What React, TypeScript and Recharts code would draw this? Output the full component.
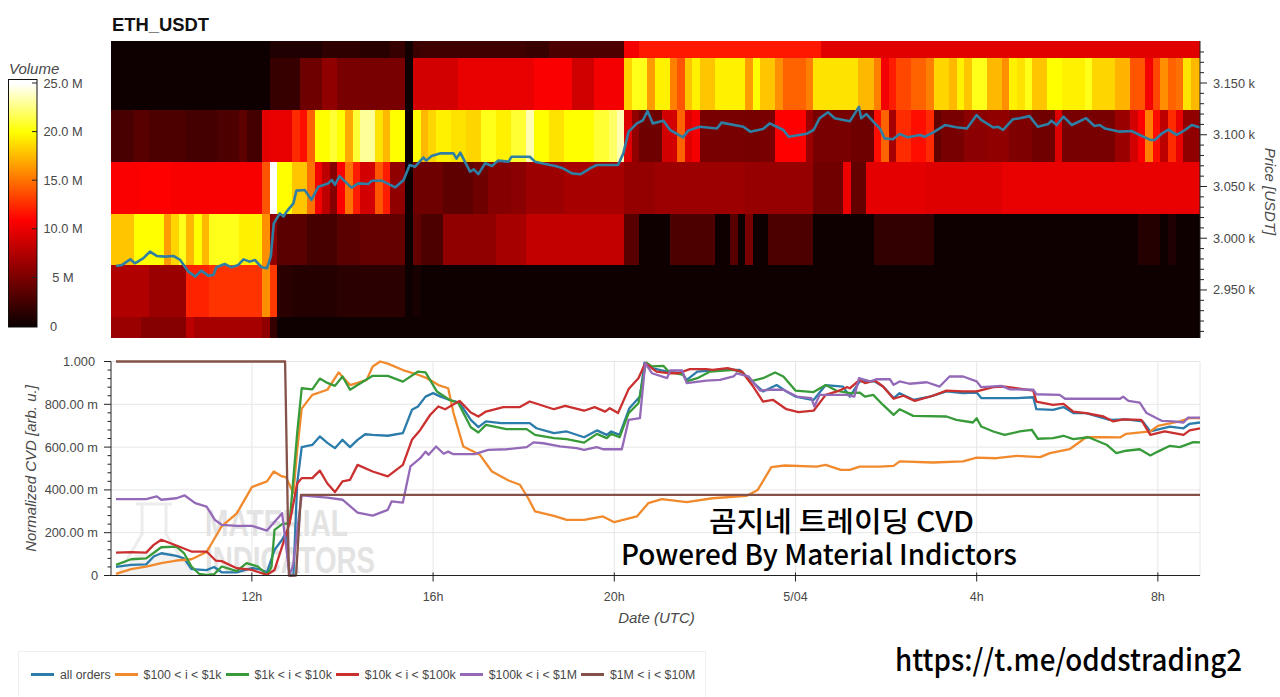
import React from 'react';
import { ComposedChart, Line, XAxis, YAxis, CartesianGrid, ReferenceArea, Legend } from 'recharts';

/* ---------- time axis: ten-minute steps counted from 09:00 UTC ---------- */
const timeTicks = [18, 42, 66, 90, 114, 138];
const timeLabels = ['12h', '16h', '20h', '5/04', '4h', '8h'];
const timeDomain = [-0.66, 143.58];

/* ---------- heatmap: price edges (USDT) and [first ten-minute column, volume in M] runs ---------- */
const priceEdges = [3190.6, 3174, 3124, 3074, 3023.5, 2974, 2924, 2903.6];
const volumeRow0 = [[0, 0.2], [21, 1], [28, 1.6], [33, 1.4], [37, 2], [39, 0.4], [40, 2.2], [41, 2.4], [55, 2.1], [58, 3], [68, 10.5], [70, 11.8], [94, 9.6]];
const volumeRow1 = [[0, 0.2], [21, 2], [25, 4.5], [28, 6], [30, 5], [39, 0.2], [40, 9], [46, 10], [56, 10.8], [61, 8.8], [64, 10.5], [68, 18.5], [69, 20.5], [71, 16.5], [72, 19.5], [74, 15.5], [75, 14], [76, 18], [77, 19.5], [78, 18], [80, 19.5], [84, 16.5], [85, 20], [86, 18], [88, 16], [89, 14.5], [92, 15.5], [93, 19], [99, 17.5], [101, 15.5], [102, 10.5], [103, 12], [104, 13.5], [106, 14.5], [108, 15.5], [109, 18.5], [111, 17.5], [112, 19.5], [113, 18], [114, 20.5], [116, 17.5], [118, 16], [119, 19.5], [120, 19], [121, 20.5], [122, 18], [124, 20], [126, 19.5], [129, 20.5], [130, 18.5], [133, 17.3], [135, 14], [137, 10.5], [138, 13.5], [139, 16], [140, 14.5], [141, 15], [142, 19], [143, 17.5]];
const volumeRow2 = [[0, 2.8], [3, 3.5], [5, 3], [10, 2.6], [14, 3], [17, 3.8], [18, 2.6], [20, 9.8], [21, 10], [24, 12.5], [25, 11.5], [26, 14.5], [27, 20], [29, 21], [30, 20], [31, 17], [32, 21], [33, 23], [35, 19], [36, 17.5], [37, 20], [39, 0.2], [40, 20], [41, 17.5], [42, 18.5], [43, 19.5], [45, 19], [47, 18.5], [49, 20.5], [51, 19.5], [53, 21], [55, 23.5], [56, 20], [58, 19], [60, 20], [64, 21], [66, 22], [67, 23.5], [68, 9.5], [69, 6], [70, 4.5], [73, 9], [75, 14.5], [76, 9.5], [77, 10.5], [78, 5], [84, 4.8], [86, 5], [88, 11], [92, 6.5], [93, 5], [98, 4.5], [101, 11.5], [102, 14.5], [103, 7], [104, 12.5], [106, 11.5], [108, 12.5], [109, 4], [110, 5], [113, 5.8], [116, 6], [119, 5.2], [122, 4.6], [125, 9.5], [126, 5], [133, 6.5], [135, 9], [136, 11], [137, 15.5], [138, 11.5], [139, 8], [140, 12.5], [141, 10], [142, 6]];
const volumeRow3 = [[0, 10.8], [4, 11], [8, 10.7], [20, 14], [21, 25], [22, 20], [24, 18], [26, 15], [27, 10.5], [28, 8], [29, 5.5], [30, 11], [31, 15], [32, 12], [33, 9], [35, 14], [36, 12], [37, 6], [39, 0.2], [40, 4.5], [44, 3.8], [48, 4.5], [50, 5.5], [53, 5.8], [55, 6.6], [60, 7], [68, 6.2], [72, 6.6], [84, 6.3], [93, 4.6], [97, 10.2], [98, 4], [100, 9.8], [108, 9.5], [118, 10]];
const volumeRow4 = [[0, 18], [3, 20], [7, 16.5], [8, 18.5], [9, 20.5], [10, 17.5], [11, 20], [12, 17.5], [13, 20.5], [17, 19.5], [20, 16], [21, 6], [22, 3.6], [26, 2.7], [30, 3.6], [33, 4], [39, 0.2], [40, 4], [41, 3], [44, 6], [51, 7], [55, 8.3], [68, 3.5], [70, 0.2], [74, 3], [80, 0.2], [82, 3.5], [83, 0.2], [84, 5], [85, 0.2], [87, 3], [93, 0.2], [101, 1.8], [109, 0.2], [136, 1.2], [139, 0.2], [140, 1], [141, 0.2]];
const volumeRow5 = [[0, 7.5], [5, 6.5], [10, 12.2], [13, 12.8], [20, 16], [21, 13], [22, 1.5], [24, 1.2], [30, 1.5], [39, 0.2], [40, 0.6], [41, 0.2]];
const volumeRow6 = [[0, 6.5], [4, 5.5], [10, 8], [11, 7], [20, 6], [21, 2], [22, 0.2]];
const volumeRows = [volumeRow0, volumeRow1, volumeRow2, volumeRow3, volumeRow4, volumeRow5, volumeRow6];
const lastColumnEdge = 144.2;

const volumeTicks = [25, 20, 15, 10, 5, 0];
const volumeTickLabels = ['25.0 M', '20.0 M', '15.0 M', '10.0 M', '5 M', '0'];

/* ---------- price (ten-minute step, USDT) ---------- */
const pricePoints = [[0, 2973.2], [0.8, 2974.2], [1.9, 2979.6], [2.5, 2975.8], [3.6, 2980.6], [4.5, 2987], [5.4, 2982.9], [6.5, 2982.2], [7.6, 2982.9], [8.5, 2979], [9.6, 2967.7], [10.5, 2962.9], [11.3, 2968.7], [12.2, 2963.9], [12.9, 2964.5], [13.3, 2971.9], [14.4, 2975.1], [15.3, 2971.9], [16.2, 2974.2], [16.9, 2979.6], [17.7, 2977.4], [18.4, 2979], [19.3, 2971.9], [20, 2971], [20.5, 2982.2], [20.9, 3014.4], [21.7, 3024], [22.2, 3021], [22.6, 3025.7], [23.5, 3033.7], [23.9, 3046], [25, 3046.6], [25.9, 3037], [26.8, 3049.8], [28.1, 3053], [28.6, 3056.3], [29, 3051.5], [29.6, 3060], [30.6, 3053], [31.2, 3048.9], [32.1, 3053], [33.4, 3052.4], [33.9, 3055.6], [35.2, 3055.6], [37, 3049.2], [38.1, 3056.3], [38.9, 3070.8], [39.6, 3069], [40.7, 3078], [41.1, 3075], [41.8, 3079.5], [42.9, 3082], [44.7, 3082], [45.1, 3077], [45.6, 3082.7], [46.9, 3064.4], [47.4, 3066.6], [48, 3062], [48.9, 3072.4], [49.8, 3069.8], [50.6, 3075], [52, 3074], [52.4, 3078.8], [54.8, 3078.8], [55.5, 3074], [57.5, 3070.8], [58.2, 3069.8], [59.2, 3067.6], [60.4, 3062.7], [61.5, 3061.8], [62.8, 3067.6], [63.7, 3070.8], [66.5, 3070.8], [67.2, 3082], [67.9, 3103], [69, 3111], [69.8, 3114], [70.4, 3123], [71.1, 3111], [72.5, 3113.6], [73.4, 3104.6], [75.1, 3097.5], [75.8, 3104], [77.3, 3107.8], [79.6, 3106], [80.2, 3111.7], [83.1, 3107.8], [84, 3103], [85.7, 3105.6], [86.6, 3111], [88.4, 3104.6], [89.1, 3098], [91.5, 3101], [92.4, 3104.6], [93.2, 3116], [94.3, 3121.7], [95.2, 3116], [97.2, 3113], [97.6, 3117.5], [98.4, 3127], [98.7, 3116], [99.4, 3120], [100.3, 3112.7], [101.2, 3106], [101.8, 3096.5], [102.9, 3095.6], [103.8, 3100.7], [104.9, 3097.5], [106.5, 3099.8], [107.1, 3098], [108.2, 3102], [109.8, 3109.4], [111.3, 3107.2], [112.7, 3106], [114, 3119], [114.6, 3114.3], [116.2, 3107], [116.8, 3107.8], [117.5, 3104.6], [118.8, 3115], [119.7, 3116], [121, 3118], [122.1, 3107.8], [123.5, 3110.4], [123.9, 3113.6], [124.6, 3109.4], [125.5, 3117.5], [126.6, 3109.4], [128.5, 3116], [129.6, 3108.5], [130.3, 3109.4], [131, 3106], [133, 3103], [134.5, 3103.6], [135.6, 3099.8], [137, 3095], [137.6, 3095], [138.5, 3101], [139.4, 3105], [140.5, 3099.8], [141.6, 3104.6], [142.5, 3109.4], [143.58, 3107]];
const priceTicks = [3180, 3170, 3160, 3150, 3140, 3130, 3120, 3110, 3100, 3090, 3080, 3070, 3060, 3050, 3040, 3030, 3020, 3010, 3000, 2990, 2980, 2970, 2960, 2950, 2940, 2930, 2920, 2910];
const priceMajor = [3150, 3100, 3050, 3000, 2950];
const priceMajorLabels = ['3.150 k', '3.100 k', '3.050 k', '3.000 k', '2.950 k'];

/* ---------- normalized CVD series: [ten-minute step, value] ---------- */
const allOrders = [[0, .04], [2, .05], [4, .052], [5, .089], [6, .104], [8, .092], [9, .08], [10, .03], [12, .025], [13, .04], [14, .015], [16, .015], [18, .035], [19, .03], [20, .015], [21, .12], [22, .167], [22.5, .2], [23, 0], [23.5, 0], [24, .43], [24.6, .6], [26, .61], [27, .65], [28, .62], [29, .595], [30, .634], [31, .6], [32, .634], [33, .66], [34, .657], [36, .653], [38, .665], [39.2, .774], [40, .79], [41, .836], [42, .852], [43, .836], [44.2, .82], [45.5, .808], [47, .727], [48, .693], [49, .72], [51, .712], [54.8, .712], [55.7, .688], [58, .665], [59.7, .673], [62, .646], [63.7, .678], [65, .657], [65.6, .673], [66.7, .657], [68, .782], [69.4, .836], [70, .995], [71, .969], [73, .953], [75, .945], [75.6, .914], [77, .953], [80, .961], [82.6, .961], [84, .914], [85.7, .86], [87.5, .89], [88.8, .86], [90, .836], [92.4, .82], [94, .89], [96.3, .883], [97.2, .836], [98.5, .907], [100.5, .907], [101.6, .883], [103, .829], [103.8, .852], [105.6, .821], [107.8, .836], [110, .86], [112.2, .852], [114, .855], [114.6, .829], [117, .829], [119.3, .829], [121.5, .833], [121.9, .777], [124.1, .774], [125.5, .787], [126.8, .759], [128.5, .759], [131.6, .727], [133.8, .73], [136, .72], [137, .673], [139.6, .696], [141.4, .688], [142.2, .709], [143.58, .715]];
const orders100to1k = [[0, .008], [2, .03], [4, .042], [6, .058], [8, .07], [10, .076], [12, .11], [14, .23], [16, .29], [18, .413], [20, .44], [20.9, .486], [22, .463], [22.5, .46], [23.5, .385], [24, .587], [24.6, .78], [26, .844], [28, .868], [29.5, .949], [31, .89], [32, .9], [33.2, .914], [34, .977], [35, 1], [36, .99], [38, .96], [40, .938], [41, .925], [42, .905], [42.7, .89], [44, .875], [44.7, .76], [46, .603], [48.2, .564], [49.8, .486], [52, .444], [53.5, .424], [54.6, .361], [55.5, .3], [58, .279], [59.7, .26], [62, .26], [64.5, .276], [66, .249], [69, .276], [70.5, .338], [72.3, .357], [75.6, .343], [79, .361], [83.5, .372], [85, .4], [86.8, .506], [88.6, .514], [92.8, .509], [94, .517], [96, .494], [97.2, .494], [98.5, .509], [101.2, .509], [103, .512], [103.8, .533], [108.2, .528], [112.2, .533], [114, .551], [116.6, .548], [119.3, .559], [122.4, .553], [123.7, .572], [126.3, .59], [128.5, .646], [130.8, .646], [133, .645], [133.8, .662], [137, .673], [138, .699], [140.9, .72], [142.2, .735], [143.58, .735]];
const orders1kto10k = [[0, .05], [2, .076], [4, .08], [6, .132], [8, .135], [9, .105], [10, .042], [11, .008], [12, .003], [13, .006], [14, .042], [16, .02], [17.3, .058], [18.8, .042], [20, .003], [20.6, .04], [21, .213], [22, .24], [23, .245], [24, .665], [24.6, .875], [26, .87], [27, .92], [28, .9], [29, .886], [30, .93], [31, .868], [32, .89], [34, .933], [36, .933], [38, .906], [40, .953], [41, .949], [42.5, .86], [44.2, .82], [45.3, .808], [47, .693], [48, .668], [49, .704], [51.7, .684], [54.4, .684], [55.5, .657], [58, .642], [59.7, .637], [62, .621], [63.7, .662], [65, .642], [65.6, .662], [66.7, .646], [67.9, .759], [69.2, .805], [70.2, .995], [71, .977], [72.5, .98], [73.2, .953], [75.1, .938], [75.6, .907], [77, .922], [78.7, .953], [81.8, .961], [83, .949], [84, .907], [85.7, .922], [87.3, .949], [88.4, .93], [90, .864], [92.4, .857], [94, .89], [95.4, .864], [97.2, .852], [98.5, .855], [99.2, .836], [100.3, .844], [101.6, .797], [103, .751], [103.8, .777], [105.6, .746], [110, .743], [111.3, .727], [113.5, .715], [114, .735], [114.6, .696], [116.2, .673], [117.7, .657], [119.7, .673], [121.3, .681], [122.1, .639], [124.1, .642], [125.5, .653], [126.8, .637], [128.8, .646], [131.2, .611], [132.5, .572], [133.8, .583], [135.6, .59], [137, .561], [138, .579], [139.6, .606], [140.9, .6], [142.7, .623], [143.58, .622]];
const orders10kto100k = [[0, .107], [2, .109], [4, .107], [5, .143], [6, .167], [8, .14], [10, .112], [12, .112], [13.2, .07], [14, .067], [16, .034], [18, .026], [20, .003], [21, .026], [22, .135], [23, .245], [24, .43], [24.6, .455], [26, .455], [27, .49], [28, .43], [29, .39], [30, .44], [31, .447], [32, .517], [34, .486], [36, .463], [38, .517], [39.2, .634], [40.3, .68], [41.6, .75], [42.7, .79], [43.6, .777], [45.5, .816], [47, .762], [48, .743], [49, .766], [51.3, .787], [53.5, .787], [54.8, .813], [58, .777], [59.5, .793], [62, .77], [63.4, .787], [64.8, .766], [65.4, .782], [66.5, .759], [67.9, .871], [69.2, .922], [70.1, .992], [71.6, .953], [73.4, .945], [74.5, .945], [76, .964], [78.2, .964], [79, .961], [81, .969], [82.9, .953], [84.4, .883], [85.7, .813], [87, .821], [88.8, .777], [90.4, .763], [92.4, .77], [94, .844], [95.5, .86], [96.8, .88], [97.2, .875], [98.5, .914], [99.2, .899], [100.5, .911], [101.6, .883], [103, .826], [104.3, .84], [105.8, .816], [108.2, .84], [110, .864], [112.2, .86], [114, .86], [116.2, .88], [117.7, .883], [121.5, .864], [121.9, .813], [124.1, .797], [125.5, .802], [126.8, .766], [128.5, .759], [130.8, .743], [132.1, .72], [133.4, .73], [135.8, .727], [137, .657], [138.9, .673], [141.4, .657], [142.2, .678], [143.58, .687]];
const orders100kto1M = [[0, .357], [2, .357], [4, .357], [5.4, .37], [6, .354], [8, .361], [9.1, .374], [10.5, .338], [12, .322], [13.1, .26], [14, .237], [16, .232], [18, .232], [20, .21], [22, .291], [23, 0], [23.5, .055], [24, .21], [24.6, .374], [26, .37], [28, .364], [30, .354], [32, .294], [34, .28], [36, .307], [36.5, .346], [38, .341], [39, .51], [40.3, .548], [41, .579], [41.4, .564], [42.4, .603], [43.4, .569], [44, .579], [44.7, .567], [47.5, .567], [49.3, .587], [51.7, .59], [54.4, .6], [55.3, .622], [56.6, .618], [58.8, .603], [61, .595], [62, .587], [63.7, .6], [64.5, .59], [67, .59], [67.9, .727], [69.4, .735], [70.1, .992], [71, .945], [73, .922], [73.4, .958], [75, .958], [75.6, .899], [78.2, .911], [80, .914], [81.8, .93], [82.2, .945], [83.8, .93], [85.3, .864], [86.6, .868], [88.4, .868], [90.2, .836], [92.1, .829], [92.5, .79], [93.2, .844], [96.8, .844], [97.8, .836], [98.4, .922], [99.9, .907], [100.7, .917], [102.5, .917], [103, .891], [103.8, .907], [105.1, .896], [107.4, .903], [109.1, .883], [110.4, .93], [112.2, .93], [114, .907], [114.6, .88], [117.3, .886], [118.4, .87], [121.5, .868], [121.9, .847], [125, .844], [125.7, .826], [133, .826], [133.4, .836], [134.1, .816], [135.6, .808], [136.5, .759], [138.5, .723], [140, .72], [141.4, .715], [142, .738], [143.58, .738]];
const orders1Mto10M = [[0, 1], [22.4, 1], [22.9, 0], [23.85, 0], [24.5, .377], [143.58, .377]];

const seriesNames = ['all orders', '$100 < i < $1k', '$1k < i < $10k', '$10k < i < $100k', '$100k < i < $1M', '$1M < i < $10M'];
const seriesColors = ['#2b7bab', '#f08a2d', '#389b3a', '#c9302f', '#9469b8', '#85524a'];
const seriesValues = [allOrders, orders100to1k, orders1kto10k, orders10kto100k, orders100kto1M, orders1Mto10M];

const cvdTicks = [0, .04, .08, .12, .16, .2, .24, .28, .32, .36, .4, .44, .48, .52, .56, .6, .64, .68, .72, .76, .8, .84, .88, .92, .96, 1];
const cvdMajor = [0, .2, .4, .6, .8, 1];
const cvdMajorLabels = ['0', '200.00 m', '400.00 m', '600.00 m', '800.00 m', '1.000'];

/* ---------- helpers ---------- */
const FONT = '"Liberation Sans", Arial, sans-serif';
const TEXT = '#484848';

const heatColor = (v: number) => {
  const hex = (n: number) => Math.round(n).toString(16).padStart(2, '0');
  if (v <= 11) return `#${hex(10 + 245 * (v / 11))}0000`;
  if (v <= 20) return `#ff${hex((255 * (v - 11)) / 9)}00`;
  return `#ffff${hex((255 * (v - 20)) / 5)}`;
};

const toPoints = (rows: number[][]) => rows.map(([j, v]) => ({ j, v }));

const heatCells = volumeRows.flatMap((row, r) =>
  row.map(([start, volume], i) => ({
    key: `${r}-${i}`,
    x1: start - 0.66,
    x2: (i + 1 < row.length ? row[i + 1][0] : lastColumnEdge) - 0.66,
    y1: priceEdges[r + 1],
    y2: priceEdges[r],
    fill: heatColor(volume),
  }))
);

const PriceTick = (props: any) => {
  const { x, y, payload } = props;
  const idx = priceMajor.indexOf(payload.value);
  return (
    <g>
      <line x1={x} x2={x + (idx >= 0 ? 7 : 4)} y1={y} y2={y} stroke="#222" strokeWidth={1} />
      {idx >= 0 && (
        <text x={x + 13} y={y + 4.5} fontSize={12.8} fill={TEXT} fontFamily={FONT}>{priceMajorLabels[idx]}</text>
      )}
    </g>
  );
};

const CvdTick = (props: any) => {
  const { x, y, payload } = props;
  const idx = cvdMajor.findIndex((m) => Math.abs(m - payload.value) < 1e-6);
  return (
    <g>
      <line x1={x} x2={x - (idx >= 0 ? 7 : 3.5)} y1={y} y2={y} stroke="#222" strokeWidth={1} />
      {idx >= 0 && (
        <text x={idx === 5 ? x - 16 : x - 13} y={y + 4.5} fontSize={12.8} textAnchor="end" fill={TEXT} fontFamily={FONT}>{cvdMajorLabels[idx]}</text>
      )}
    </g>
  );
};

const TimeTick = (props: any) => {
  const { x, y, payload } = props;
  const idx = timeTicks.indexOf(payload.value);
  return (
    <g>
      <line x1={x} x2={x} y1={y - 3} y2={y + 6} stroke="#222" strokeWidth={1} />
      <text x={x} y={y + 25} fontSize={12.5} textAnchor="middle" fill={TEXT} fontFamily={FONT}>{timeLabels[idx]}</text>
    </g>
  );
};

const LegendBox = ({ payload }: any) => (
  <div style={{ display: 'flex', alignItems: 'center', height: 46, paddingLeft: 12, boxSizing: 'border-box', border: '1px solid #efefef', borderBottom: 'none', fontFamily: FONT, fontSize: 12.3, color: TEXT, whiteSpace: 'pre' }}>
    {(payload || []).map((p: any) => (
      <span key={p.value} style={{ display: 'flex', alignItems: 'center', marginRight: 4 }}>
        <span style={{ display: 'inline-block', width: 23, height: 2.5, background: p.color, marginRight: 6 }} />
        {p.value}
      </span>
    ))}
  </div>
);

const ColorBar = () => {
  const stops = [0, 5, 8, 11, 14, 17, 20, 22.5, 25];
  return (
    <svg width={110} height={340} style={{ position: 'absolute', left: 0, top: 0 }}>
      <defs>
        <linearGradient id="hotBar" x1="0" y1="1" x2="0" y2="0">
          {stops.map((s) => <stop key={s} offset={s / 25.4} stopColor={heatColor(s)} />)}
          <stop offset={1} stopColor="#ffffff" />
        </linearGradient>
      </defs>
      <text x={9} y={74} fontSize={15} fontStyle="italic" fill={TEXT} fontFamily={FONT}>Volume</text>
      <rect x={8.5} y={79.5} width={28.5} height={247.5} fill="url(#hotBar)" stroke="#111" strokeWidth={1} />
      {volumeTicks.map((v, i) => {
        const y = 326 - v * 9.72;
        return (
          <g key={v}>
            {v > 0 && <line x1={32} x2={37} y1={y} y2={y} stroke="#222" />}
            <text x={v === 0 ? 53.5 : 63} y={y + 4.5} fontSize={12.8} textAnchor="middle" fill={TEXT} fontFamily={FONT}>{volumeTickLabels[i]}</text>
          </g>
        );
      })}
    </svg>
  );
};

const Watermark = () => (
  <svg width={400} height={120} style={{ position: 'absolute', left: 100, top: 490 }}>
    <path d="M42 14 L42 44 L18 85 M66 14 L66 44 L92 85 M36 14 L72 14" fill="none" stroke="#ececec" strokeWidth={3} />
    <path d="M38 62 L72 62 L92 85 L18 85 Z" fill="#f2f2f2" />
    <text x={105} y={46} fontSize={36} fontWeight="bold" fill="#e3e3e3" fontFamily='"Liberation Sans Narrow", "Liberation Sans"' textLength={143} lengthAdjust="spacingAndGlyphs">MATERIAL</text>
    <text x={105} y={83} fontSize={36} fontWeight="bold" fill="#e3e3e3" fontFamily='"Liberation Sans Narrow", "Liberation Sans"' textLength={170} lengthAdjust="spacingAndGlyphs">INDICATORS</text>
  </svg>
);

const Overlay = () => (
  <svg width={1280} height={697} style={{ position: 'absolute', left: 0, top: 0, pointerEvents: 'none' }}>
    <text x={112} y={31} fontSize={18.4} fontWeight="bold" fill="#111" fontFamily={FONT}>ETH_USDT</text>
    <text x={709} y={532} fontSize={28} fontWeight={500} fill="#000" fontFamily='"Noto Sans CJK KR"' textLength={265} lengthAdjust="spacingAndGlyphs">곰지네 트레이딩 CVD</text>
    <text x={621} y={565} fontSize={28} fontWeight={500} fill="#000" fontFamily='"Noto Sans CJK KR"' textLength={396} lengthAdjust="spacingAndGlyphs">Powered By Material Indictors</text>
    <text x={895} y={671} fontSize={30} fontWeight={500} fill="#000" fontFamily='"Noto Sans CJK KR"' textLength={347} lengthAdjust="spacingAndGlyphs">https://t.me/oddstrading2</text>
  </svg>
);

export default function App() {
  return (
    <div style={{ position: 'absolute', left: 0, top: 0, width: 1280, height: 697, background: '#fff', overflow: 'hidden' }}>
      <Watermark />
      <div style={{ position: 'absolute', left: 0, top: 0 }}>
        <ComposedChart width={1280} height={345} data={toPoints(pricePoints)} margin={{ top: 41, right: 20, bottom: 7, left: 111 }}>
          <XAxis dataKey="j" type="number" domain={timeDomain} hide />
          <YAxis
            orientation="right"
            type="number"
            width={60}
            domain={[priceEdges[7], priceEdges[0]]}
            ticks={priceTicks}
            interval={0}
            tick={<PriceTick />}
            tickLine={false}
            tickSize={0}
            tickMargin={0}
            axisLine={{ stroke: '#222' }}
            label={{ value: 'Price [USDT]', angle: 90, position: 'insideRight', offset: -10, dy: 2, style: { fontFamily: FONT, fontSize: 15, fontStyle: 'italic', fill: TEXT, textAnchor: 'middle' } }}
          />
          {heatCells.map((c) => (
            <ReferenceArea key={c.key} x1={c.x1} x2={c.x2} y1={c.y1} y2={c.y2} fill={c.fill} fillOpacity={1} stroke="none" shapeRendering="crispEdges" />
          ))}
          <Line dataKey="v" name="Price" stroke="#2f7ea3" strokeWidth={2.6} strokeLinejoin="round" dot={false} isAnimationActive={false} type="linear" />
        </ComposedChart>
      </div>
      <div style={{ position: 'absolute', left: 0, top: 345 }}>
        <ComposedChart width={1280} height={352} margin={{ top: 16.5, right: 80, bottom: 91.5, left: 0 }}>
          <CartesianGrid stroke="#e6e6e6" horizontalValues={cvdMajor} verticalValues={[...timeTicks, timeDomain[1]]} />
          <XAxis
            dataKey="j"
            type="number"
            domain={timeDomain}
            ticks={timeTicks}
            interval={0}
            height={30}
            tick={<TimeTick />}
            tickLine={false}
            tickSize={0}
            tickMargin={0}
            axisLine={{ stroke: '#222' }}
            label={{ value: 'Date (UTC)', position: 'insideBottom', offset: -17, dx: 1, style: { fontFamily: FONT, fontSize: 15, fontStyle: 'italic', fill: TEXT } }}
          />
          <YAxis
            dataKey="v"
            type="number"
            width={111}
            domain={[0, 1]}
            ticks={cvdTicks}
            interval={0}
            tick={<CvdTick />}
            tickLine={false}
            tickSize={0}
            tickMargin={0}
            axisLine={{ stroke: '#222' }}
            label={{ value: 'Normalized CVD [arb. u.]', angle: -90, position: 'insideLeft', offset: 31, dy: 0, style: { fontFamily: FONT, fontSize: 15, fontStyle: 'italic', fill: TEXT, textAnchor: 'middle' } }}
          />
          {seriesValues.map((vals, i) => (
            <Line key={seriesNames[i]} data={toPoints(vals)} dataKey="v" name={seriesNames[i]} stroke={seriesColors[i]} strokeWidth={2.3} strokeLinejoin="round" dot={false} isAnimationActive={false} type="linear" />
          ))}
          <Legend
            layout="horizontal"
            verticalAlign="middle"
            align="center"
            itemSorter={null}
            content={<LegendBox />}
            wrapperStyle={{ position: 'absolute', left: 18, top: 306, width: 688, height: 46, margin: 0 }}
          />
        </ComposedChart>
      </div>
      <ColorBar />
      <Overlay />
    </div>
  );
}
